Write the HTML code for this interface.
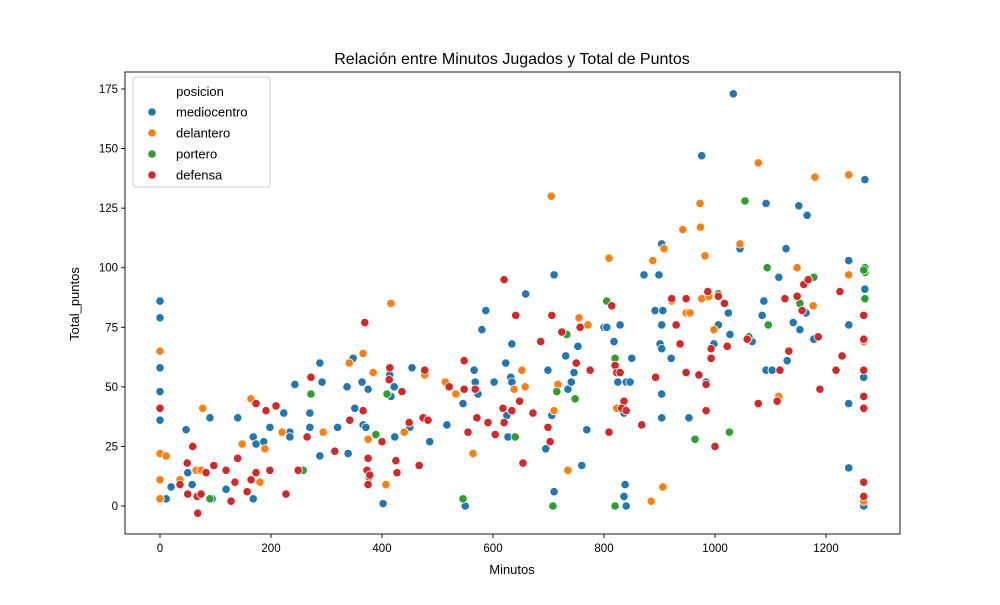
<!DOCTYPE html>
<html><head><meta charset="utf-8"><style>
body{margin:0;background:#fff;}
svg{font-family:"Liberation Sans","DejaVu Sans",sans-serif;}
</style></head><body>
<svg id="chart" width="1000" height="600" xmlns="http://www.w3.org/2000/svg">
<rect width="1000" height="600" fill="#fff"/>
<text x="512" y="64" text-anchor="middle" font-size="16">Relación entre Minutos Jugados y Total de Puntos</text>
<g id="plot"></g>
<text x="512" y="574" text-anchor="middle" font-size="13">Minutos</text>
<text x="0" y="0" transform="translate(79,304) rotate(-90)" text-anchor="middle" font-size="13">Total_puntos</text>
</svg>
<script>
const xTicks=[0,200,400,600,800,1000,1200];
const yTicks=[0,25,50,75,100,125,150,175];
const seriesNames=["mediocentro","delantero","portero","defensa"];
const seriesColors=["#1f77b4","#ff7f0e","#2ca02c","#d62728"];
const mediocentro=[[0,86],[0,79],[0,58],[0,48],[0,36],[11,3],[20,8],[47,32],[50,14],[58,9],[90,37],[94,3],[119,7],[140,37],[168,29],[173,26],[168,3],[187,27],[198,33],[223,39],[234,31],[234,29],[243,51],[270,39],[270,33],[288,60],[292,52],[288,21],[320,33],[337,50],[339,22],[348,62],[351,41],[364,52],[366,34],[371,33],[375,49],[402,1],[414,55],[416,46],[422,50],[423,29],[450,35],[454,58],[450,33],[486,27],[517,34],[546,43],[550,0],[566,57],[568,52],[573,47],[580,74],[587,82],[602,52],[623,60],[627,29],[634,68],[632,54],[634,52],[625,38],[659,89],[695,24],[699,57],[710,97],[710,6],[706,38],[731,63],[735,49],[741,52],[746,56],[753,67],[760,17],[769,32],[800,75],[805,75],[818,69],[825,52],[829,76],[834,42],[836,39],[838,9],[836,4],[840,0],[840,52],[847,52],[850,62],[872,97],[892,82],[899,97],[901,68],[904,110],[904,66],[904,76],[904,47],[906,82],[904,37],[921,62],[953,37],[976,147],[984,52],[998,68],[1006,76],[1024,81],[1027,72],[1033,173],[1045,108],[1067,69],[1085,80],[1088,86],[1092,127],[1092,57],[1103,57],[1115,96],[1128,108],[1130,61],[1141,77],[1151,126],[1153,74],[1164,81],[1166,122],[1178,70],[1241,103],[1241,76],[1241,43],[1241,16],[1270,91],[1268,54],[1268,0],[1270,137]];
const delantero=[[0,65],[0,22],[0,11],[0,3],[11,21],[36,11],[65,15],[77,41],[74,15],[148,26],[164,45],[180,10],[189,24],[220,31],[294,31],[341,60],[366,64],[375,28],[384,56],[407,9],[416,85],[440,31],[477,55],[514,52],[533,47],[564,22],[638,49],[658,50],[652,57],[705,130],[710,40],[717,51],[735,15],[755,79],[771,76],[809,104],[823,41],[885,2],[888,103],[906,8],[908,108],[922,86],[942,116],[948,81],[955,81],[973,127],[974,117],[976,87],[982,105],[989,88],[998,74],[1045,110],[1078,144],[1115,46],[1148,100],[1177,84],[1180,138],[1241,139],[1241,97],[1268,70],[1268,4],[1268,2],[1268,69]];
const portero=[[90,3],[258,15],[272,47],[377,12],[389,30],[409,47],[546,3],[640,29],[708,0],[715,48],[733,72],[748,45],[805,86],[820,62],[820,0],[964,28],[1006,89],[1026,31],[1054,128],[1061,71],[1094,100],[1096,76],[1153,85],[1178,96],[1270,100],[1270,98],[1270,87],[1268,99]];
const defensa=[[0,41],[36,9],[49,18],[50,5],[59,25],[67,4],[68,-3],[74,5],[83,14],[97,17],[119,15],[128,2],[135,10],[140,20],[157,6],[164,11],[173,43],[173,14],[191,40],[198,15],[209,42],[227,5],[249,15],[265,29],[272,54],[315,23],[342,36],[369,77],[366,40],[373,15],[378,13],[375,20],[375,9],[400,27],[414,58],[413,53],[425,19],[427,14],[436,48],[449,35],[467,17],[474,37],[483,36],[477,57],[521,50],[548,49],[548,61],[555,31],[568,49],[571,37],[591,35],[604,30],[618,41],[620,95],[620,35],[634,40],[641,80],[648,44],[654,18],[672,39],[686,69],[699,33],[703,27],[706,80],[724,73],[757,75],[750,60],[775,57],[809,31],[814,84],[820,59],[823,56],[829,56],[836,44],[832,41],[840,40],[868,34],[893,54],[922,87],[930,76],[937,68],[948,87],[948,56],[971,55],[984,40],[984,51],[987,90],[993,66],[993,62],[1000,25],[1006,88],[1017,85],[1022,67],[1058,70],[1078,43],[1112,44],[1117,57],[1126,87],[1133,65],[1148,88],[1157,82],[1160,93],[1168,95],[1186,71],[1189,49],[1225,90],[1229,63],[1218,57],[1268,80],[1268,57],[1268,46],[1268,41],[1268,10],[1268,4],[1268,70]];
const allSeries=[mediocentro,delantero,portero,defensa];

const L=125,R=900,T=72,B=534;
const X=v=>160+v*(666/1200);
const Y=v=>506-v*(417/175);
const NS="http://www.w3.org/2000/svg";
const g=document.getElementById('plot');
function mk(tag,attrs,parent){const e=document.createElementNS(NS,tag);for(const k in attrs)e.setAttribute(k,attrs[k]);(parent||g).appendChild(e);return e;}

const pts=mk('g',{});


allSeries.forEach((s,si)=>{
  const sg=mk('g',{},pts);
  
  
  s.forEach(p=>{
    const c=mk('circle',{cx:X(p[0]),cy:Y(p[1]),r:4.2,fill:seriesColors[si],stroke:'#fff','stroke-width':0.8},sg);
    
    
  });
});

const frame=mk('rect',{x:L,y:T,width:R-L,height:B-T,fill:'none',stroke:'#000','stroke-width':0.9});



xTicks.forEach(t=>{
  const x=X(t);
  const l=mk('line',{x1:x,x2:x,y1:B,y2:B+4,stroke:'#000','stroke-width':0.9});
  
  
  const tx=mk('text',{x:x,y:B+18,'text-anchor':'middle','font-size':11.5});
  tx.textContent=t;
  
  
});
yTicks.forEach(t=>{
  const y=Y(t);
  const l=mk('line',{x1:L-4,x2:L,y1:y,y2:y,stroke:'#000','stroke-width':0.9});
  
  
  const tx=mk('text',{x:L-7,y:y+4,'text-anchor':'end','font-size':11.5});
  tx.textContent=t;
  
  
});

const lg=mk('g',{});


mk('rect',{x:133,y:77,width:137,height:110,rx:3,fill:'#fff','fill-opacity':0.8,stroke:'#ccc'},lg);
const lt=mk('text',{x:200,y:96,'text-anchor':'middle','font-size':13},lg);
lt.textContent='posicion';


seriesNames.forEach((n,i)=>{
  const y=112+i*21;
  const e=mk('g',{},lg);
  
  
  mk('circle',{cx:152,cy:y,r:4.2,fill:seriesColors[i],stroke:'#fff','stroke-width':0.8},e);
  const t=mk('text',{x:176,y:y+4.5,'font-size':13},e);
  t.textContent=n;
});
</script>
</body></html>
